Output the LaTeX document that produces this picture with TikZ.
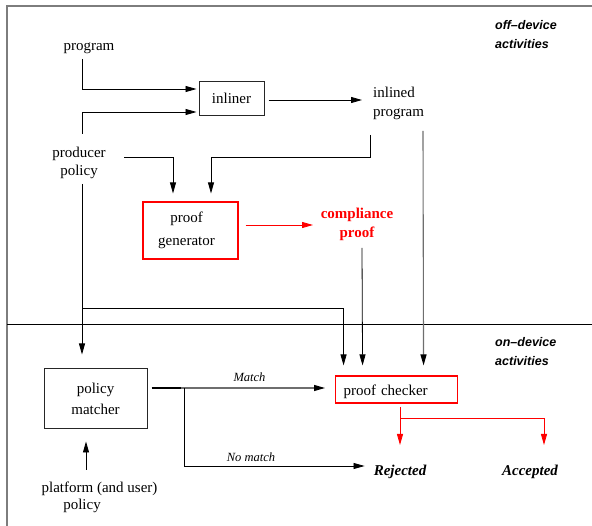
\documentclass[tikz,border=0pt]{standalone}
\usepackage{fontspec}
\setmainfont{Liberation Serif}
\newfontfamily\hsans{Liberation Sans}
\usetikzlibrary{arrows.meta,calc}
\definecolor{frgray}{RGB}{125,125,125}
\definecolor{lngray}{RGB}{110,110,110}
\definecolor{pred}{RGB}{255,0,0}
\begin{document}
\begin{tikzpicture}[x=1pt,y=-1pt,
  txt/.style={font=\fontsize{15}{18}\selectfont, align=center, inner sep=0pt},
  side/.style={font=\hsans\bfseries\itshape\fontsize{12.5}{19}\selectfont, align=left, inner sep=0pt, anchor=west},
  lbl/.style={font=\itshape\fontsize{12.5}{15}\selectfont, inner sep=0pt},
  res/.style={font=\bfseries\itshape\fontsize{15}{18}\selectfont, inner sep=0pt},
  bbox/.style={draw=black!85, line width=1pt, font=\fontsize{15}{18}\selectfont, align=center, inner sep=0pt},
  rbox/.style={draw=pred, line width=1.1pt, font=\fontsize{15}{18}\selectfont, align=center, inner sep=0pt},
  tip/.style={-{Triangle[length=11pt,width=6pt,color=#1]}},
  arr/.style={tip=black, line width=0.8pt, black},
  garr/.style={tip=black, line width=1.1pt, lngray},
  rarr/.style={tip=pred, line width=0.8pt, pred},
  rline/.style={line width=0.8pt, pred}
]
\useasboundingbox (0,0) rectangle (592,526);
\begin{scope}
\clip (0,0) rectangle (592,526);
\draw[frgray, line width=1.6pt] (7,6) rectangle (610,545);
\draw[line width=0.8pt] (7,324) -- (600,324);
\end{scope}

% nodes
\node[txt] (prog) at (89,48) {program};
\node[bbox, minimum width=65pt, minimum height=34pt] (inl) at (231.5,98.5) {inliner};
\node[txt, align=left, anchor=west, font=\fontsize{15}{19}\selectfont] (inlp) at (373,103.5) {inlined\\program};
\node[txt] (prod) at (79,163) {producer\\policy};
\node[rbox, minimum width=95pt, minimum height=57pt, font=\fontsize{15}{23}\selectfont] (gen) at (190.5,230.5) {\hspace*{-8pt}proof\\\hspace*{-8pt}generator};
\node[txt, text=pred, font=\bfseries\fontsize{15}{19}\selectfont] (comp) at (357,224.5) {compliance\\proof};
\node[rbox, minimum height=27pt, text width=106pt, inner xsep=8pt, align=left, anchor=west] (chk) at (335,389.5) {\raisebox{-2.5pt}[\height][\depth]{proof checker}};
\node[bbox, minimum width=103pt, minimum height=60pt, font=\fontsize{15}{21}\selectfont] (pm) at (95.5,399) {policy\\matcher};
\node[txt] (plat1) at (99.5,489) {platform (and user)};
\node[txt] (plat2) at (82,506) {policy};
\node[res] (rej) at (400,471.5) {Rejected};
\node[res] (acc) at (530,471.5) {Accepted};
\node[lbl] (match) at (249.5,377) {Match};
\node[lbl] (nomatch) at (251,457) {No match};
\node[side] (off) at (495,34.5) {off–device\\activities};
\node[side] (on) at (495,352) {on–device\\activities};

% coordinates
\coordinate (c1) at (82,59);
\coordinate (c2) at (82,134);
\coordinate (c3) at (362,100);
\coordinate (c4) at (124,157);
\coordinate (c5) at (370,135);
\coordinate (c6) at (211,157);
\coordinate (c7) at (313,225);
\coordinate (c8) at (362,248);
\coordinate (c9) at (423,131);
\coordinate (c10) at (82,184);
\coordinate (c11) at (82,308);
\coordinate (c12) at (181,388);
\coordinate (c13) at (184,388);
\coordinate (c16) at (400,407);
\coordinate (c17) at (400,418);
\coordinate (c18) at (544,445);
\coordinate (c19) at (86,470);

% connectors
\draw[arr] (c1) |- ([xshift=-2pt,yshift=9.5pt]inl.west);
\draw[arr] (c2) |- ([xshift=-2pt,yshift=-13.5pt]inl.west);
\draw[arr] ([xshift=4pt,yshift=-1.5pt]inl.east) -- (c3);
\draw[arr] (c4) -| ([xshift=-17.5pt,yshift=8pt]gen.north);
\draw[arr] (c5) |- (c6) -- ([xshift=20.5pt,yshift=8pt]gen.north);
\draw[rarr] ([xshift=7pt,yshift=5.5pt]gen.east) -- (c7);
\draw[arr] (c8) -- ([xshift=-34pt,yshift=10pt]chk.north);
\draw[garr] (c9) -- ([xshift=27pt,yshift=10pt]chk.north);
\draw[arr] (c10) -- ([xshift=-13.5pt,yshift=14pt]pm.north);
\draw[arr] (c11) -| ([xshift=-53pt,yshift=10pt]chk.north);
\draw[line width=1.8pt] ([xshift=4pt,yshift=11pt]pm.east) -- (c12);
\draw[garr] (c12) -- ([xshift=-10pt,yshift=1.5pt]chk.west);
\draw[arr] (c13) |- ([xshift=-9pt,yshift=5.5pt]rej.west);
\draw[rarr] (c16) -- (c17 |- c18);
\draw[rarr] (c17) -| (c18);
\draw[arr] (c19) -- ([xshift=-9.5pt,yshift=-12pt]pm.south);
\end{tikzpicture}
\end{document}
